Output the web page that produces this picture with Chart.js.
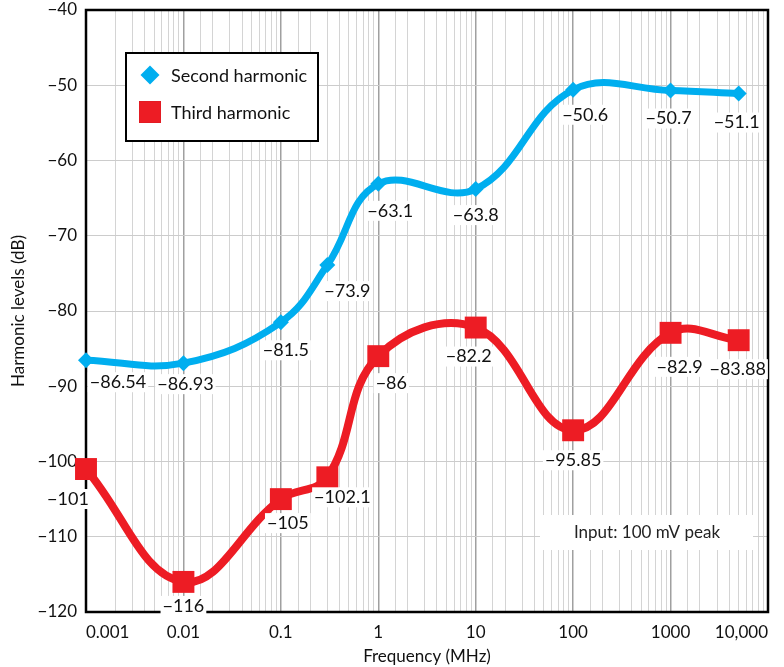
<!DOCTYPE html>
<html>
<head>
<meta charset="utf-8">
<script src="https://cdn.jsdelivr.net/npm/chart.js@4/dist/chart.umd.min.js"></script>
<style>
  body { margin: 0; background: #fff; }
</style>
</head>
<body>
<canvas id="myChart" width="784" height="667"></canvas>
<script>
// data
var frequencies = [0.001, 0.01, 0.1, 0.3, 1, 10, 100, 1000, 5000];
var secondHarmonic = [-86.54, -86.93, -81.5, -73.9, -63.1, -63.8, -50.6, -50.7, -51.1];
var thirdHarmonic = [-101, -116, -105, -102.1, -86, -82.2, -95.85, -82.9, -83.88];
var secondLabels = ['−86.54', '−86.93', '−81.5', '−73.9', '−63.1', '−63.8', '−50.6', '−50.7', '−51.1'];
var thirdLabels = ['−101', '−116', '−105', '−102.1', '−86', '−82.2', '−95.85', '−82.9', '−83.88'];
var xTickValues = [0.001, 0.01, 0.1, 1, 10, 100, 1000, 10000];
var xTickLabels = ['0.001', '0.01', '0.1', '1', '10', '100', '1000', '10,000'];

// where each value label sits relative to its point (dx, dy)
var secondLabelOffset = [[32, 22], [2, 21], [5, 28], [20, 26], [12, 27], [0, 26], [12, 25], [-2, 28], [-2, 29]];
var thirdLabelOffset = [[-18, 30], [0, 24], [7, 24], [15, 20], [13, 27], [-7, 29], [0, 30], [9, 34], [-1, 29]];

var FONT = 'Lato, "Open Sans", sans-serif';
var BLUE = '#00aeef';
var RED = '#ed1c24';

function toPoints(values) {
  return values.map(function (v, i) { return { x: frequencies[i], y: v }; });
}

var frameBox = {
  id: 'frameBox',
  beforeDatasetsDraw: function (chart) {
    var a = chart.chartArea, ctx = chart.ctx;
    ctx.save();
    // note box in the lower right, covers the grid
    ctx.fillStyle = '#fff';
    ctx.fillRect(a.right - 228, a.bottom - 97, 213, 35);
    ctx.fillStyle = '#222';
    ctx.font = '17px ' + FONT;
    ctx.textAlign = 'center';
    ctx.textBaseline = 'middle';
    ctx.fillText('Input: 100 mV peak', a.right - 121, a.bottom - 79);
    ctx.strokeStyle = '#000';
    ctx.lineWidth = 2.5;
    ctx.strokeRect(a.left, a.top, a.right - a.left, a.bottom - a.top);
    ctx.restore();
  }
};

var valueLabels = {
  id: 'valueLabels',
  afterDatasetsDraw: function (chart) {
    var ctx = chart.ctx;
    ctx.save();
    ctx.font = '18px ' + FONT;
    ctx.textAlign = 'center';
    ctx.textBaseline = 'middle';
    chart.data.datasets.forEach(function (ds, i) {
      var meta = chart.getDatasetMeta(i);
      meta.data.forEach(function (pt, j) {
        var txt = ds.valueText[j];
        var x = pt.x + ds.labelOffset[j][0];
        var y = pt.y + ds.labelOffset[j][1];
        var w = ctx.measureText(txt).width;
        ctx.fillStyle = '#fff';
        ctx.fillRect(x - w / 2 - 2, y - 10, w + 4, 20);
        ctx.fillStyle = '#111';
        ctx.fillText(txt, x, y);
      });
    });
    // legend box
    var a = chart.chartArea;
    var bx = a.left + 40, by = a.top + 43;
    ctx.fillStyle = '#fff';
    ctx.fillRect(bx, by, 192, 88);
    ctx.strokeStyle = '#000';
    ctx.lineWidth = 2;
    ctx.strokeRect(bx, by, 192, 88);
    ctx.textAlign = 'left';
    chart.data.datasets.forEach(function (ds, i) {
      var cy = by + 22 + i * 37;
      Chart.helpers.drawPoint(ctx, {
        pointStyle: ds.pointStyle, radius: ds.pointStyle === 'rect' ? 15.5 : 9.5,
        borderWidth: 0, rotation: 0
      }, bx + 24, cy);
      ctx.fillStyle = ds.backgroundColor;
      ctx.fill();
      ctx.fillStyle = '#111';
      ctx.fillText(ds.label, bx + 45, cy + 1);
    });
    ctx.restore();
  }
};

var ctx = document.getElementById('myChart').getContext('2d');
var chart = new Chart(ctx, {
  type: 'line',
  data: {
    datasets: [{
      label: 'Second harmonic',
      data: toPoints(secondHarmonic),
      valueText: secondLabels,
      labelOffset: secondLabelOffset,
      borderColor: BLUE,
      backgroundColor: BLUE,
      borderWidth: 7,
      pointStyle: 'rectRot',
      pointRadius: 8,
      pointBorderWidth: 0,
      tension: 0.4,
      clip: false
    }, {
      label: 'Third harmonic',
      data: toPoints(thirdHarmonic),
      valueText: thirdLabels,
      labelOffset: thirdLabelOffset,
      borderColor: RED,
      backgroundColor: RED,
      borderWidth: 8,
      pointStyle: 'rect',
      pointRadius: 15.5,
      pointBorderWidth: 0,
      tension: 0.4,
      clip: false
    }]
  },
  options: {
    responsive: false,
    animation: false,
    layout: { autoPadding: false, padding: { left: 0, right: 16, top: 10, bottom: 0 } },
    plugins: { legend: { display: false }, tooltip: { enabled: false } },
    scales: {
      x: {
        type: 'logarithmic',
        min: 0.001,
        max: 10000,
        border: { display: false },
        grid: {
          drawTicks: false,
          color: function (c) { return c.tick && c.tick.major ? '#a0a0a0' : '#d4d4d4'; },
          lineWidth: function (c) { return c.tick && c.tick.major ? 1.5 : 1; }
        },
        ticks: {
          autoSkip: false,
          maxRotation: 0,
          align: 'inner',
          padding: 10,
          color: '#111',
          font: { family: FONT, size: 17 },
          callback: function (value) {
            for (var i = 0; i < xTickValues.length; i++) {
              if (Math.abs(value - xTickValues[i]) / xTickValues[i] < 1e-6) return xTickLabels[i];
            }
            return '';
          }
        },
        title: {
          display: true,
          text: 'Frequency (MHz)',
          color: '#111',
          font: { family: FONT, size: 17 },
          padding: { top: 3, bottom: 0 }
        },
        afterFit: function (scale) {
          scale.height = 55;
          scale.paddingLeft = 0;
          scale.paddingRight = 0;
        }
      },
      y: {
        min: -120,
        max: -40,
        border: { display: false },
        grid: { drawTicks: false, color: '#cccccc', lineWidth: 1 },
        ticks: {
          stepSize: 10,
          padding: 9,
          color: '#111',
          font: { family: FONT, size: 17 },
          callback: function (v) { return '−' + Math.abs(v); }
        },
        title: {
          display: true,
          text: 'Harmonic levels (dB)',
          color: '#111',
          font: { family: FONT, size: 17 },
          padding: { top: 8, bottom: 0 }
        },
        afterFit: function (scale) {
          scale.width = 86;
          scale.paddingTop = 0;
          scale.paddingBottom = 0;
        }
      }
    }
  },
  plugins: [frameBox, valueLabels]
});
</script>
</body>
</html>
